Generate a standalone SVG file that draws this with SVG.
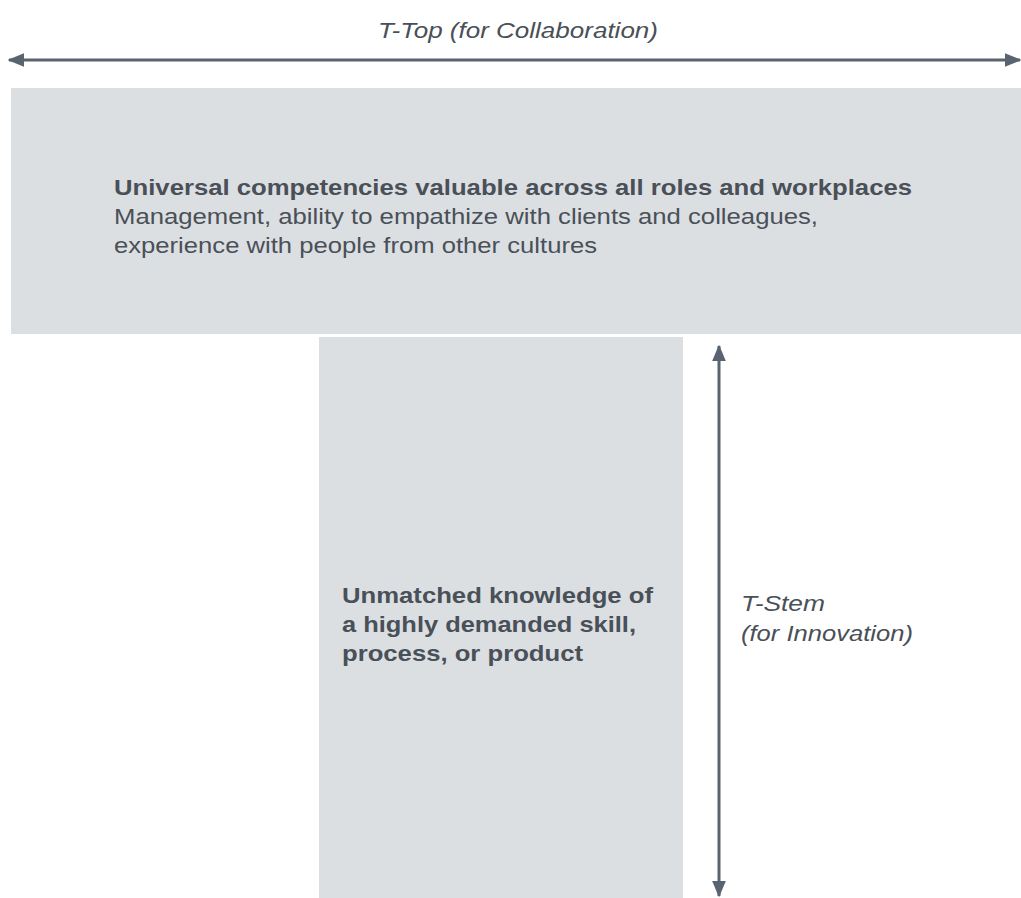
<svg xmlns="http://www.w3.org/2000/svg" width="1021" height="898" viewBox="0 0 1021 898">
<style>
.box{fill:#dbdfe2}
.lbl{font-family:"Liberation Sans",Arimo,Arial,Helvetica,sans-serif;font-size:22px;fill:#4a5058}
.it{font-style:italic}
.b{font-weight:bold}
.conn{stroke:#5a6470;stroke-width:3;fill:none}
</style>
<defs>
<marker id="ah" viewBox="0 0 12 10" refX="11" refY="5" markerWidth="5.5" markerHeight="5" orient="auto-start-reverse" markerUnits="strokeWidth">
<path d="M0,0 L12,5 L0,10 z" fill="#5a6470"/>
</marker>
</defs>
<rect width="1021" height="898" fill="#ffffff"/>
<g id="t-top">
<rect class="box" x="11" y="88" width="1010" height="246"/>
<text class="lbl b" x="114" y="195" textLength="798" lengthAdjust="spacingAndGlyphs">Universal competencies valuable across all roles and workplaces</text>
<text class="lbl" x="114" y="224" textLength="704" lengthAdjust="spacingAndGlyphs">Management, ability to empathize with clients and colleagues,</text>
<text class="lbl" x="114" y="253" textLength="483" lengthAdjust="spacingAndGlyphs">experience with people from other cultures</text>
</g>
<g id="t-stem">
<rect class="box" x="319" y="337" width="364" height="561"/>
<text class="lbl b" x="342" y="603" textLength="311" lengthAdjust="spacingAndGlyphs">Unmatched knowledge of</text>
<text class="lbl b" x="342" y="632" textLength="294" lengthAdjust="spacingAndGlyphs">a highly demanded skill,</text>
<text class="lbl b" x="342" y="661" textLength="241" lengthAdjust="spacingAndGlyphs">process, or product</text>
</g>
<g id="top-label">
<text class="lbl it" x="378" y="38" textLength="280" lengthAdjust="spacingAndGlyphs">T-Top (for Collaboration)</text>
</g>
<g id="stem-label">
<text class="lbl it" x="741" y="611" textLength="84" lengthAdjust="spacingAndGlyphs">T-Stem</text>
<text class="lbl it" x="741" y="641" textLength="172" lengthAdjust="spacingAndGlyphs">(for Innovation)</text>
</g>
<g id="connectors">
<line class="conn" x1="9" y1="60" x2="1020" y2="60" marker-start="url(#ah)" marker-end="url(#ah)"/>
<line class="conn" x1="719" y1="346" x2="719" y2="896" marker-start="url(#ah)" marker-end="url(#ah)"/>
</g>
</svg>
